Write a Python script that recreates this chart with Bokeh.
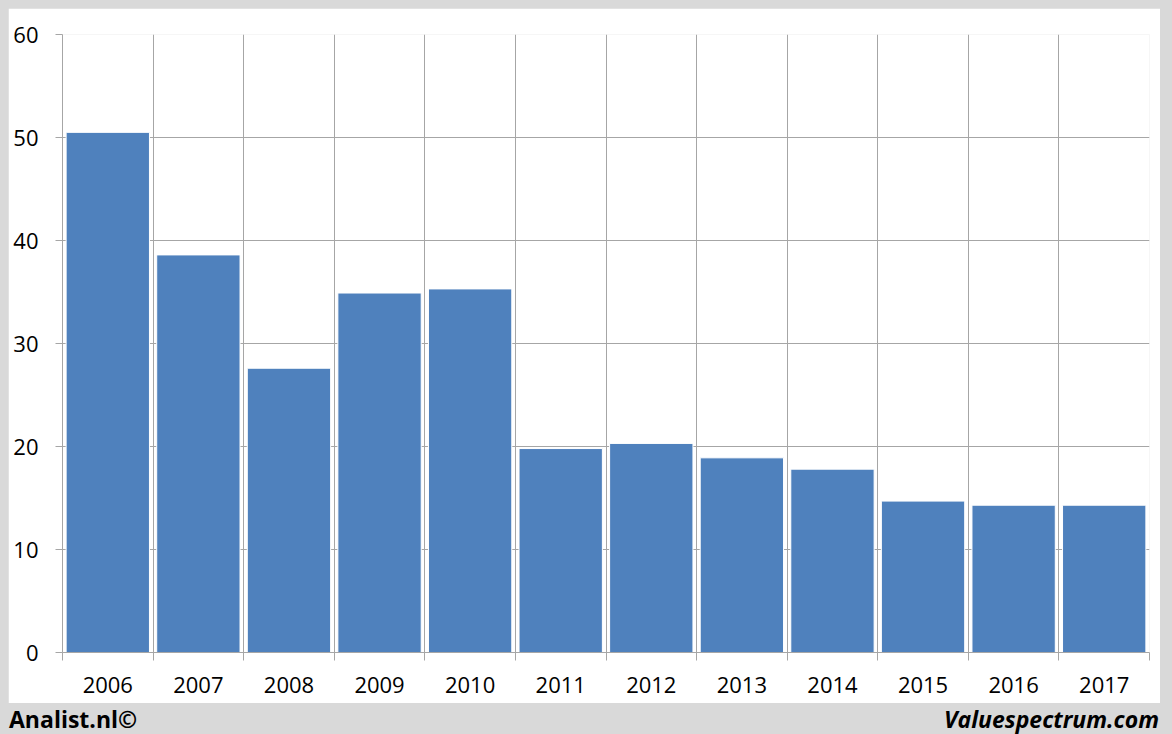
from bokeh.plotting import figure
from bokeh.models import Range1d, FixedTicker, ColumnDataSource, Div
from bokeh.layouts import column
from bokeh.embed import file_html
from bokeh.resources import INLINE

# ---- data ----
years = ["2006", "2007", "2008", "2009", "2010", "2011",
         "2012", "2013", "2014", "2015", "2016", "2017"]
values = [50.5, 38.6, 27.6, 34.9, 35.3, 19.8, 20.3, 18.9, 17.8, 14.7, 14.3, 14.3]
y_ticks = [0, 10, 20, 30, 40, 50, 60]
left_caption = "Analist.nl\u00a9"
right_caption = "Valuespectrum.com"

# ---- styles ----
GRID = "#a6a6a6"
BAR = "#4f81bd"
FRAME = "#d9d9d9"
FONT = "Open Sans"

xs = [i + 0.5 for i in range(len(years))]
bounds = list(range(len(years) + 1))

FW, FH = 1087, 618
p = figure(frame_width=FW, frame_height=FH,
           min_border_left=54, min_border_right=11,
           min_border_top=26, min_border_bottom=51,
           x_range=Range1d(0, len(years)), y_range=Range1d(0, 60),
           output_backend="svg", toolbar_location=None,
           background_fill_color="white", border_fill_color="white")
p.outline_line_color = None

src = ColumnDataSource(dict(x=xs, top=values, year=years))
p.vbar(x="x", top="top", width=0.92, source=src,
       fill_color=BAR, line_color="white", line_width=1)

xt = FixedTicker(ticks=xs, minor_ticks=bounds)
p.xaxis.ticker = xt
p.xaxis.major_label_overrides = {x: y for x, y in zip(xs, years)}
p.xaxis.major_tick_line_color = None
p.xaxis.major_tick_out = 0
p.xaxis.major_tick_in = 0
p.xaxis.minor_tick_out = 8
p.xaxis.minor_tick_in = 0
p.xaxis.minor_tick_line_color = GRID
p.xaxis.axis_line_color = GRID
p.xaxis.major_label_text_font = FONT
p.xaxis.major_label_text_font_size = "22px"
p.xaxis.major_label_text_color = "black"
p.xaxis.major_label_standoff = 16

p.xgrid.ticker = xt
p.xgrid.grid_line_color = None
p.xgrid.minor_grid_line_color = GRID

yt = FixedTicker(ticks=y_ticks)
p.yaxis.ticker = yt
p.yaxis.major_tick_out = 7
p.yaxis.major_tick_in = 0
p.yaxis.major_tick_line_color = GRID
p.yaxis.minor_tick_line_color = None
p.yaxis.axis_line_color = GRID
p.yaxis.major_label_text_font = FONT
p.yaxis.major_label_text_font_size = "22px"
p.yaxis.major_label_text_color = "black"
p.yaxis.major_label_standoff = 17
p.ygrid.ticker = yt
p.ygrid.grid_line_color = GRID

footer_html = (
    "<div style=\"display:flex;justify-content:space-between;width:1150px;"
    "margin-left:-4px;font-family:'Open Sans';font-size:23px;font-weight:bold;"
    "line-height:22px;color:#000;white-space:nowrap;\">"
    "<span>" + left_caption + "</span>"
    "<span style=\"font-style:italic;\">" + right_caption + "</span></div>"
)
footer = Div(text=footer_html, width=1156, height=23,
             styles={"background-color": FRAME, "overflow": "visible"})

layout = column(p, footer, spacing=0)
html = file_html(layout, INLINE)
html = html.replace("</head>",
                    "<style>html,body{margin:0;padding:0;height:auto;background:#d9d9d9;overflow:hidden;}"
                    "body{padding:8px;}</style></head>", 1)
open("out.html", "w").write(html)
